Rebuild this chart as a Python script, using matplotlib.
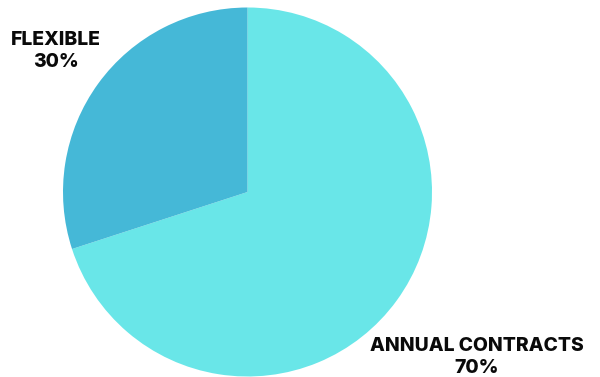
import matplotlib
matplotlib.use("Agg")
import matplotlib.pyplot as plt

categories = ["ANNUAL CONTRACTS", "FLEXIBLE"]
values = [70, 30]
colors = ["#69E6E8", "#45B8D7"]

W, H = 600, 377
fig = plt.figure(figsize=(W / 100, H / 100), dpi=100)
ax = fig.add_axes([0, 0, 1, 1])
ax.set_xlim(0, W)
ax.set_ylim(0, H)
ax.set_aspect("equal")
ax.axis("off")

ax.pie(values, colors=colors, startangle=90, counterclock=False,
       center=(247.5, H - 192), radius=184.5,
       wedgeprops=dict(linewidth=0))
ax.set_xlim(0, W)
ax.set_ylim(0, H)

label_pos = [(477, H - 357), (56, H - 51)]
for cat, v, (x, y) in zip(categories, values, label_pos):
    ax.text(x, y, f"{cat}\n{v}%", ha="center", va="center",
            fontsize=13.9, fontweight="heavy", family="Inter",
            color="#0a0a0a", linespacing=1.35)

fig.savefig("out.png", dpi=100)
